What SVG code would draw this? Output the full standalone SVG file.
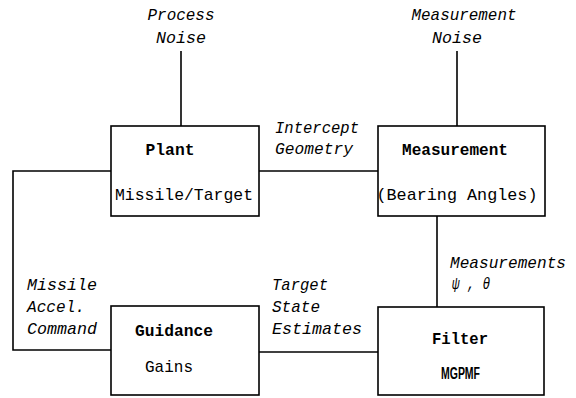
<svg xmlns="http://www.w3.org/2000/svg" width="576" height="398" viewBox="0 0 576 398">
<style>
.box{fill:#fff;stroke:#000;stroke-width:1.6}
.ln{fill:none;stroke:#000;stroke-width:1.6}
.it{font-family:"Liberation Mono",monospace;font-style:italic;font-size:17px;fill:#000}
.bd{font-family:"Liberation Mono",monospace;font-weight:bold;font-size:17px;fill:#000}
.rg{font-family:"Liberation Mono",monospace;font-size:17px;fill:#000}
</style>
<rect width="576" height="398" fill="#fff"/>
<g id="connectors">
<path class="ln" d="M181 51V126"/>
<path class="ln" d="M457 51V126"/>
<path class="ln" d="M259 171H378"/>
<path class="ln" d="M111 171H13V350H111"/>
<path class="ln" d="M437 216V307"/>
<path class="ln" d="M259 352H378"/>
</g>
<g id="labels">
<text class="it" x="181" y="20" text-anchor="middle" textLength="67" lengthAdjust="spacingAndGlyphs">Process</text>
<text class="it" x="181" y="43" text-anchor="middle" textLength="50" lengthAdjust="spacingAndGlyphs">Noise</text>
<text class="it" x="464" y="20" text-anchor="middle" textLength="105" lengthAdjust="spacingAndGlyphs">Measurement</text>
<text class="it" x="457" y="43" text-anchor="middle" textLength="50" lengthAdjust="spacingAndGlyphs">Noise</text>
<text class="it" x="275" y="133" textLength="84" lengthAdjust="spacingAndGlyphs">Intercept</text>
<text class="it" x="275" y="154" textLength="78" lengthAdjust="spacingAndGlyphs">Geometry</text>
<text class="it" x="27" y="290" textLength="70" lengthAdjust="spacingAndGlyphs">Missile</text>
<text class="it" x="27" y="312" textLength="58" lengthAdjust="spacingAndGlyphs">Accel.</text>
<text class="it" x="27" y="334" textLength="70" lengthAdjust="spacingAndGlyphs">Command</text>
<text class="it" x="272" y="290" textLength="56" lengthAdjust="spacingAndGlyphs">Target</text>
<text class="it" x="272" y="312" textLength="48" lengthAdjust="spacingAndGlyphs">State</text>
<text class="it" x="272" y="334" textLength="90" lengthAdjust="spacingAndGlyphs">Estimates</text>
<text class="it" x="450" y="268" textLength="116" lengthAdjust="spacingAndGlyphs">Measurements</text>
<text class="it" x="452" y="289" textLength="38" lengthAdjust="spacingAndGlyphs">ψ , θ</text>
</g>
<g id="plant">
<rect class="box" x="111" y="126" width="148" height="90"/>
<text class="bd" x="170" y="155" text-anchor="middle" textLength="49" lengthAdjust="spacingAndGlyphs">Plant</text>
<text class="rg" x="184" y="200" text-anchor="middle" textLength="138" lengthAdjust="spacingAndGlyphs">Missile/Target</text>
</g>
<g id="measurement">
<rect class="box" x="378" y="126" width="167" height="90"/>
<text class="bd" x="455" y="155" text-anchor="middle" textLength="106" lengthAdjust="spacingAndGlyphs">Measurement</text>
<text class="rg" x="457" y="200" text-anchor="middle" textLength="161" lengthAdjust="spacingAndGlyphs">(Bearing Angles)</text>
</g>
<g id="guidance">
<rect class="box" x="111" y="306" width="148" height="89"/>
<text class="bd" x="174" y="336" text-anchor="middle" textLength="78" lengthAdjust="spacingAndGlyphs">Guidance</text>
<text class="rg" x="169" y="372" text-anchor="middle" textLength="48" lengthAdjust="spacingAndGlyphs">Gains</text>
</g>
<g id="filter">
<rect class="box" x="378" y="307" width="166" height="88"/>
<text class="bd" x="460" y="344" text-anchor="middle" textLength="56" lengthAdjust="spacingAndGlyphs">Filter</text>
<text x="441" y="379" font-family="Liberation Sans, sans-serif" font-weight="bold" font-size="16" textLength="39" lengthAdjust="spacingAndGlyphs">MGPMF</text>
</g>
</svg>
